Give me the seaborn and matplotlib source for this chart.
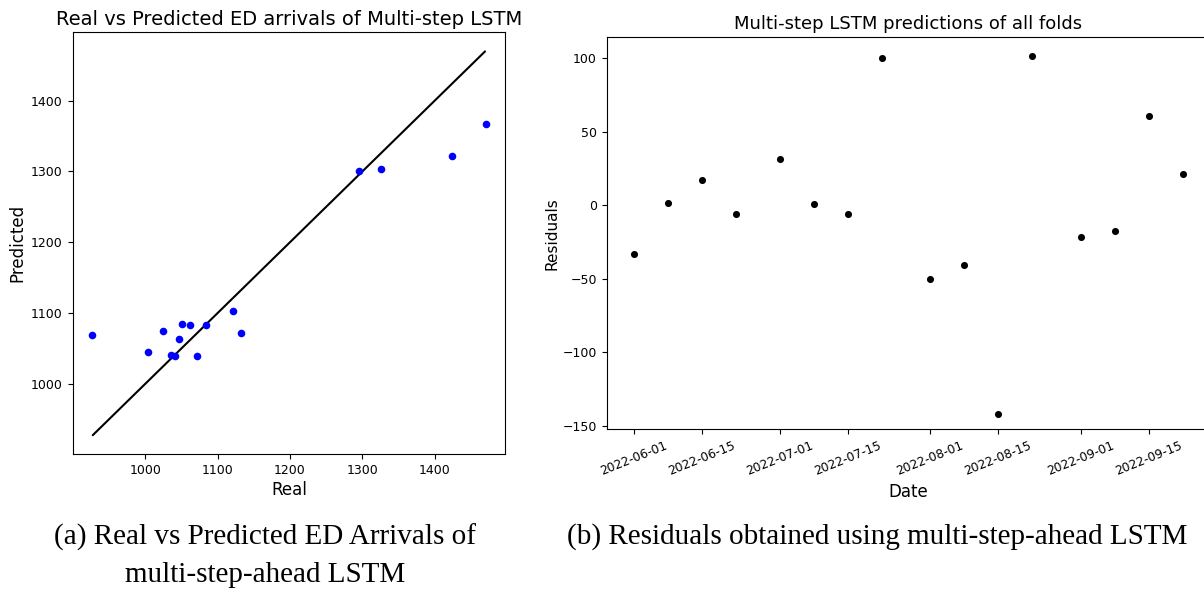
import matplotlib
matplotlib.use("Agg")
import matplotlib.pyplot as plt
import matplotlib.dates as mdates
import numpy as np
import pandas as pd
import seaborn as sns

# ---- data ----
real = [926.7, 1004.1, 1024.0, 1035.5, 1040.6, 1046.0, 1051.2, 1061.8,
        1071.4, 1084.3, 1120.7, 1132.7, 1295.4, 1325.3, 1424.0, 1471.0]
predicted = [1068.7, 1045.2, 1074.4, 1041.4, 1039.5, 1063.5, 1084.2, 1083.3,
             1040.0, 1082.8, 1103.0, 1072.0, 1300.2, 1303.0, 1322.4, 1367.0]
ideal_line = [927.5, 1469.5]

dates = ["2022-06-01", "2022-06-08", "2022-06-15", "2022-06-22",
         "2022-07-01", "2022-07-08", "2022-07-15", "2022-07-22",
         "2022-08-01", "2022-08-08", "2022-08-15", "2022-08-22",
         "2022-09-01", "2022-09-08", "2022-09-15", "2022-09-22"]
residuals = [-33.0, 1.6, 17.5, -5.9, 31.7, 1.1, -6.2, 100.0,
             -50.1, -40.8, -141.7, 101.8, -21.9, -17.3, 60.8, 21.4]

xticks_left = [1000, 1100, 1200, 1300, 1400]
yticks_left = [1000, 1100, 1200, 1300, 1400]
yticks_right = [-150, -100, -50, 0, 50, 100]

title_left = "Real vs Predicted ED arrivals of Multi-step LSTM"
title_right = "Multi-step LSTM predictions of all folds"
caption_a1 = "(a) Real vs Predicted ED Arrivals of"
caption_a2 = "multi-step-ahead LSTM"
caption_b = "(b) Residuals obtained using multi-step-ahead LSTM"

sns.set_theme(style="ticks", rc={
    "axes.edgecolor": "black",
    "axes.linewidth": 0.8,
    "xtick.color": "black",
    "ytick.color": "black",
    "xtick.labelsize": 9,
    "ytick.labelsize": 9,
    "xtick.major.size": 3.5,
    "ytick.major.size": 3.5,
    "xtick.major.width": 0.8,
    "ytick.major.width": 0.8,
    "xtick.major.pad": 3.5,
    "ytick.major.pad": 3.5,
    "axes.labelcolor": "black",
    "axes.labelpad": 4.0,
    "text.color": "black",
})
plt.rcParams["font.family"] = ["DejaVu Sans"]

W, H = 1204, 590
fig = plt.figure(figsize=(W / 100, H / 100), dpi=100)
fig.patch.set_facecolor("white")

def box(l, t, r, b):
    return [l / W, 1 - b / H, (r - l) / W, (b - t) / H]

ax1 = fig.add_axes(box(72.5, 32.3, 505.3, 454.3))
ax2 = fig.add_axes(box(606.7, 37.3, 1210.0, 429.3))

# ---- left: real vs predicted ----
df1 = pd.DataFrame({"Real": real, "Predicted": predicted})
sns.lineplot(x=ideal_line, y=ideal_line, color="black", linewidth=1.5, ax=ax1)
sns.scatterplot(data=df1, x="Real", y="Predicted", color="blue", s=30,
                linewidth=0, ax=ax1, zorder=3)
ax1.set_xticks(xticks_left)
ax1.set_yticks(yticks_left)
ax1.set_xlim(899.5, 1497.5)
ax1.set_ylim(900.5, 1496.5)
ax1.set_title(title_left, fontsize=14, pad=5)
ax1.set_xlabel("Real", fontsize=12, labelpad=3)
ax1.set_ylabel("Predicted", fontsize=12, labelpad=3)

# ---- right: residuals ----
df2 = pd.DataFrame({"Date": pd.to_datetime(dates), "Residuals": residuals})
sns.scatterplot(data=df2, x="Date", y="Residuals", color="black", s=26,
                linewidth=0, ax=ax2)
ax2.xaxis.set_major_locator(mdates.DayLocator(bymonthday=[1, 15]))
ax2.xaxis.set_major_formatter(mdates.DateFormatter("%Y-%m-%d"))
ax2.set_yticks(yticks_right)
ax2.set_ylim(-152.4, 114.3)
ax2.set_title(title_right, fontsize=13, pad=6)
ax2.set_xlabel("Date", fontsize=12, labelpad=4)
ax2.set_ylabel("Residuals", fontsize=11, labelpad=2)
plt.setp(ax2.get_xticklabels(), rotation=22, ha="center", fontsize=8.8)

# ---- captions ----
serif = ["Liberation Serif", "DejaVu Serif"]
fig.text(265 / W, 1 - 537 / H, caption_a1, ha="center", va="center",
         fontsize=21, family=serif)
fig.text(265 / W, 1 - 575 / H, caption_a2, ha="center", va="center",
         fontsize=21, family=serif)
fig.text(877 / W, 1 - 537 / H, caption_b, ha="center", va="center",
         fontsize=21, family=serif)

fig.savefig("out.png", dpi=100, facecolor="white")
